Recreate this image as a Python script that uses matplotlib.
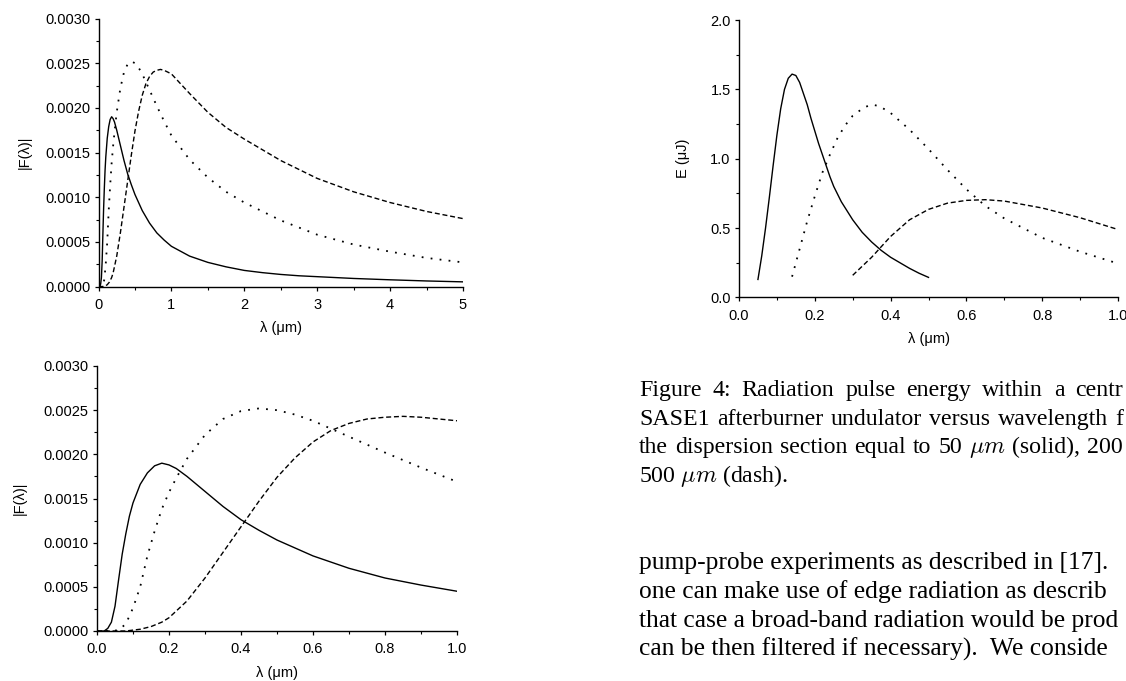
import re
import numpy as np
import matplotlib
matplotlib.use('Agg')
import matplotlib.pyplot as plt
from matplotlib.ticker import MultipleLocator, FormatStrFormatter

plt.rcParams['font.family'] = ['Liberation Sans', 'DejaVu Sans']
plt.rcParams['mathtext.fontset'] = 'cm'

# |F(lambda)| spectra (x in um)
lam_solid = [0.0, 0.02, 0.03, 0.04, 0.05, 0.06, 0.07, 0.08, 0.09, 0.10, 0.12, 0.14, 0.16,
             0.18, 0.20, 0.22, 0.25, 0.30, 0.35, 0.40, 0.45, 0.50, 0.60, 0.70, 0.80, 0.90,
             1.0, 1.25, 1.5, 1.75, 2.0, 2.25, 2.5, 2.75, 3.0, 3.5, 4.0, 4.5, 5.0]
f_solid = [0.0, 0.0, 0.00003, 0.0001, 0.00028, 0.00058, 0.00087, 0.00110, 0.00130, 0.00145,
           0.00166, 0.00179, 0.00187, 0.00190, 0.00188, 0.00184, 0.00175, 0.00158, 0.00141,
           0.00126, 0.00114, 0.00103, 0.00085, 0.00071, 0.00060, 0.00052, 0.00045, 0.00034,
           0.00027, 0.00022, 0.00018, 0.000155, 0.000135, 0.00012, 0.00011, 0.00009,
           0.000075, 0.000062, 0.000052]

lam_dot = [0.0, 0.04, 0.06, 0.08, 0.10, 0.12, 0.14, 0.16, 0.18, 0.20, 0.22, 0.25, 0.30, 0.35,
           0.40, 0.45, 0.50, 0.55, 0.60, 0.65, 0.70, 0.80, 0.90, 1.0, 1.25, 1.5, 1.75, 2.0,
           2.5, 3.0, 3.5, 4.0, 4.5, 5.0]
f_dot = [0.0, 0.0, 0.00001, 0.00008, 0.00026, 0.00050, 0.00085, 0.00113, 0.00138, 0.00157,
         0.00173, 0.00195, 0.00222, 0.00240, 0.00249, 0.00252, 0.00250, 0.00245, 0.00238,
         0.00229, 0.00220, 0.00202, 0.00185, 0.00169, 0.00142, 0.00122, 0.00106, 0.00094,
         0.00074, 0.00058, 0.00047, 0.00039, 0.00032, 0.00027]

lam_dash = [0.0, 0.08, 0.10, 0.12, 0.15, 0.18, 0.20, 0.25, 0.30, 0.35, 0.40, 0.45, 0.50, 0.55,
            0.60, 0.65, 0.70, 0.75, 0.80, 0.85, 0.90, 1.0, 1.25, 1.5, 1.75, 2.0, 2.5, 3.0,
            3.5, 4.0, 4.5, 5.0]
f_dash = [0.0, 0.0, 0.00001, 0.00002, 0.00005, 0.0001, 0.00015, 0.00034, 0.00060, 0.00089,
          0.00118, 0.00147, 0.00174, 0.00196, 0.00214, 0.00227, 0.00235, 0.00240, 0.00242,
          0.00243, 0.00242, 0.00238, 0.00216, 0.00195, 0.00178, 0.00165, 0.00141, 0.00121,
          0.00106, 0.00094, 0.00084, 0.00076]

# pulse energy E (uJ), right panel
lam_e_solid = [0.05, 0.06, 0.07, 0.08, 0.09, 0.10, 0.11, 0.12, 0.13, 0.14, 0.15, 0.16, 0.17,
               0.18, 0.19, 0.20, 0.21, 0.22, 0.23, 0.24, 0.25, 0.27, 0.30, 0.325, 0.35,
               0.375, 0.40, 0.425, 0.45, 0.475, 0.50]
e_solid = [0.13, 0.30, 0.50, 0.72, 0.95, 1.17, 1.36, 1.50, 1.58, 1.61, 1.60, 1.55, 1.47,
           1.39, 1.29, 1.20, 1.11, 1.03, 0.95, 0.87, 0.80, 0.69, 0.56, 0.47, 0.40,
           0.34, 0.29, 0.25, 0.21, 0.175, 0.145]

lam_e_dot = [0.14, 0.16, 0.18, 0.20, 0.22, 0.24, 0.26, 0.28, 0.30, 0.33, 0.35, 0.37, 0.40,
             0.45, 0.50, 0.55, 0.60, 0.65, 0.70, 0.80, 0.90, 1.0]
e_dot = [0.15, 0.35, 0.55, 0.73, 0.90, 1.03, 1.15, 1.24, 1.31, 1.37, 1.39, 1.38, 1.33,
         1.21, 1.07, 0.92, 0.78, 0.66, 0.57, 0.43, 0.33, 0.245]

lam_e_dash = [0.30, 0.35, 0.40, 0.45, 0.50, 0.55, 0.60, 0.65, 0.70, 0.80, 0.90, 1.0]
e_dash = [0.16, 0.29, 0.44, 0.56, 0.635, 0.68, 0.70, 0.705, 0.695, 0.645, 0.575, 0.49]

caption = ["Figure 4:  Radiation pulse energy within a centr",
           "SASE1 afterburner undulator versus wavelength f",
           r"the dispersion section equal to 50 $\mu m$ (solid), 200",
           r"500 $\mu m$ (dash)."]
paragraph = ["pump-probe experiments as described in [17].",
             "one can make use of edge radiation as describ",
             "that case a broad-band radiation would be prod",
             "can be then filtered if necessary).  We conside"]

W, H = 1126, 681
fig = plt.figure(figsize=(W / 100, H / 100), dpi=100)
fig.patch.set_facecolor('white')


def px_axes(x0, x1, ytop, ybot):
    return fig.add_axes([x0 / W, 1 - ybot / H, (x1 - x0) / W, (ybot - ytop) / H])


DOT = (0, (1, 4))
DASH = (0, (3.6, 2))


def style(ax):
    ax.spines['top'].set_visible(False)
    ax.spines['right'].set_visible(False)
    for s in ('left', 'bottom'):
        ax.spines[s].set_linewidth(1.0)
    ax.tick_params(which='major', direction='out', length=3, width=0.9, labelsize=10.5)
    ax.tick_params(which='minor', direction='out', length=2, width=0.8)
    ax.tick_params(axis='x', which='major', pad=5)
    ax.tick_params(axis='y', which='major', pad=3)


def draw_f(ax):
    ax.plot(lam_solid, f_solid, color='black', lw=1.0)
    ax.plot(lam_dot, f_dot, color='black', lw=1.3, linestyle=DOT)
    ax.plot(lam_dash, f_dash, color='black', lw=1.0, linestyle=DASH)
    ax.set_ylim(0, 0.003)
    ax.yaxis.set_major_locator(MultipleLocator(0.0005))
    ax.yaxis.set_minor_locator(MultipleLocator(0.00025))
    ax.yaxis.set_major_formatter(FormatStrFormatter('%.4f'))
    ax.set_ylabel('|F(λ)|', fontsize=10.5)
    ax.set_xlabel('λ (μm)', fontsize=10.5)


# top left
ax1 = px_axes(98.5, 463, 18.5, 286.5)
style(ax1)
draw_f(ax1)
ax1.set_xlim(0, 5)
ax1.xaxis.set_major_locator(MultipleLocator(1))
ax1.xaxis.set_minor_locator(MultipleLocator(0.5))
ax1.yaxis.set_label_coords(-0.182, 0.5)
ax1.xaxis.set_label_coords(0.5, -0.13)

# bottom left
ax2 = px_axes(97, 457, 366, 631)
style(ax2)
draw_f(ax2)
ax2.set_xlim(0, 1)
ax2.xaxis.set_major_locator(MultipleLocator(0.2))
ax2.xaxis.set_minor_locator(MultipleLocator(0.1))
ax2.xaxis.set_major_formatter(FormatStrFormatter('%.1f'))
ax2.yaxis.set_label_coords(-0.194, 0.5)
ax2.xaxis.set_label_coords(0.5, -0.132)

# right
ax3 = px_axes(739, 1118, 20, 297.5)
style(ax3)
ax3.plot(lam_e_solid, e_solid, color='black', lw=1.0)
ax3.plot(lam_e_dot, e_dot, color='black', lw=1.3, linestyle=DOT)
ax3.plot(lam_e_dash, e_dash, color='black', lw=1.0, linestyle=DASH)
ax3.set_xlim(0, 1)
ax3.set_ylim(0, 2)
ax3.xaxis.set_major_locator(MultipleLocator(0.2))
ax3.xaxis.set_minor_locator(MultipleLocator(0.1))
ax3.yaxis.set_major_locator(MultipleLocator(0.5))
ax3.yaxis.set_minor_locator(MultipleLocator(0.25))
ax3.xaxis.set_major_formatter(FormatStrFormatter('%.1f'))
ax3.yaxis.set_major_formatter(FormatStrFormatter('%.1f'))
ax3.set_ylabel('E (μJ)', fontsize=10.5)
ax3.set_xlabel('λ (μm)', fontsize=10.5)
ax3.yaxis.set_label_coords(-0.129, 0.5)
ax3.xaxis.set_label_coords(0.5, -0.126)

# page text around the figure
serif = ['Liberation Serif', 'DejaVu Serif']
renderer = fig.canvas.get_renderer()


def put_line(text, x0, base_y, size, right=None):
    """Write one line of text; if right is given, stretch word gaps to end there."""
    if right is None:
        fig.text(x0 / W, 1 - base_y / H, text, family=serif, fontsize=size,
                 va='baseline', ha='left')
        return
    words = re.findall(r'\$[^$]*\$\S*|\S+', text)
    arts = [fig.text(0, 1 - base_y / H, w, family=serif, fontsize=size,
                     va='baseline', ha='left') for w in words]
    widths = [a.get_window_extent(renderer).width for a in arts]
    gap = (right - x0 - sum(widths)) / (len(words) - 1)
    x = x0
    for a, w in zip(arts, widths):
        a.set_x(x / W)
        x += w + gap


for i, line in enumerate(caption):
    put_line(line, 639, 396 + i * 28.7, 17.2, right=1123 if i < 3 else None)
for i, line in enumerate(paragraph):
    put_line(line, 639, 569 + i * 29, 18.4)

fig.savefig('out.png', dpi=100)
